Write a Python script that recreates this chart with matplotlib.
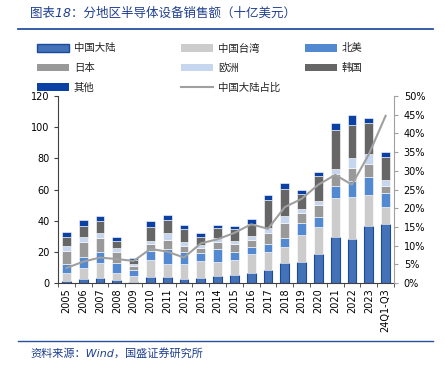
import numpy as np
import matplotlib
matplotlib.use('Agg')
import matplotlib.pyplot as plt
from matplotlib.patches import Patch
from matplotlib.lines import Line2D
from matplotlib.ticker import PercentFormatter

plt.rcParams['font.family'] = ['DejaVu Sans', 'Noto Sans CJK SC']

# 数据（十亿美元），读自原图
years = ['2005', '2006', '2007', '2008', '2009', '2010', '2011', '2012', '2013', '2014',
         '2015', '2016', '2017', '2018', '2019', '2020', '2021', '2022', '2023', '24Q1-Q3']
china = [1.33, 2.33, 2.91, 1.89, 0.94, 3.66, 3.65, 2.5, 3.37, 4.37,
         4.9, 6.46, 8.23, 13.11, 13.45, 18.72, 29.62, 28.27, 36.6, 37.66]
taiwan = [5.3, 7.0, 10.2, 4.8, 3.7, 11.2, 8.5, 9.5, 10.6, 9.4,
          9.6, 12.2, 11.5, 10.2, 17.1, 17.2, 24.9, 26.8, 19.6, 11.2]
n_america = [5.6, 7.2, 6.5, 6.1, 3.5, 5.8, 9.9, 8.2, 5.2, 8.2,
             5.1, 4.5, 5.6, 5.8, 8.2, 6.5, 7.6, 10.5, 12.0, 8.6]
japan = [8.2, 9.6, 9.5, 6.8, 3.0, 4.5, 5.5, 3.5, 3.4, 4.2,
         5.5, 4.6, 6.5, 9.5, 6.3, 7.6, 7.8, 8.3, 7.9, 4.9]
europe = [3.2, 3.2, 3.2, 2.8, 1.0, 2.0, 4.3, 2.3, 1.9, 2.4,
          1.9, 2.2, 3.7, 4.2, 2.3, 2.6, 3.3, 6.3, 6.5, 3.9]
korea = [6.0, 7.0, 7.2, 4.6, 2.4, 8.6, 8.6, 8.7, 5.2, 6.8,
         7.5, 7.7, 18.0, 17.7, 9.9, 16.1, 25.0, 21.5, 19.9, 14.6]
others = [3.3, 4.4, 3.3, 2.5, 1.4, 4.3, 3.0, 2.2, 2.2, 2.1,
          2.0, 3.6, 3.1, 3.9, 2.6, 2.5, 4.4, 5.9, 3.7, 3.3]
china_share = [4.0, 5.7, 6.8, 6.4, 5.9, 9.1, 8.4, 6.8, 10.6, 11.7,
               13.4, 15.7, 14.5, 20.3, 22.5, 26.3, 28.9, 26.3, 34.4, 44.7]

series = [
    ('中国大陆', china, '#4372b8', '#1a4a9c', 0.8),
    ('中国台湾', taiwan, '#cccccc', 'white', 0.4),
    ('北美', n_america, '#5289d0', 'white', 0.4),
    ('日本', japan, '#999999', 'white', 0.4),
    ('欧洲', europe, '#c6d6ef', 'white', 0.4),
    ('韩国', korea, '#666666', 'white', 0.4),
    ('其他', others, '#0b41a4', 'white', 0.4),
]
line_color = '#a0a0a0'
navy = '#1f3f8f'

W, H = 445, 367
fig = plt.figure(figsize=(W / 100, H / 100), dpi=100)
ax = fig.add_axes([58 / W, 1 - 283 / H, (394 - 58) / W, (283 - 96) / H])

x = np.arange(len(years))
bottom = np.zeros(len(years))
for name, vals, fc, ec, lw in series:
    ax.bar(x, vals, 0.52, bottom=bottom, color=fc, edgecolor=ec, linewidth=lw)
    bottom += np.array(vals)

ax.set_xlim(-0.5, len(years) - 0.5)
ax.set_ylim(0, 120)
ax.set_yticks(np.arange(0, 121, 20))
ax.set_xticks(x)
ax.set_xticklabels(years, rotation=90)
ax.set_xticks(np.arange(-0.5, len(years), 1), minor=True)
ax.tick_params(axis='x', which='major', length=0, pad=4, labelsize=7)
ax.tick_params(axis='x', which='minor', length=3, color='#404040')
ax.tick_params(axis='y', length=3, pad=3, labelsize=7, color='#404040')
for s in ['top', 'right']:
    ax.spines[s].set_visible(False)
ax.spines['left'].set_color('#404040')
ax.spines['bottom'].set_color('#404040')

ax2 = ax.twinx()
ax2.plot(x, np.array(china_share) / 100, color=line_color, linewidth=1.5)
ax2.set_ylim(0, 0.5)
ax2.set_yticks(np.arange(0, 0.51, 0.05))
ax2.yaxis.set_major_formatter(PercentFormatter(1.0, decimals=0))
ax2.tick_params(axis='y', length=3, pad=4, labelsize=7, color=line_color)
for s in ['top', 'left', 'bottom']:
    ax2.spines[s].set_visible(False)
ax2.spines['right'].set_color(line_color)

# 图例：三列分别放置
handles = [Patch(facecolor=fc, edgecolor=ec if ec != 'white' else fc, linewidth=1 if ec != 'white' else 0, label=name)
           for name, vals, fc, ec, lw in series]
handles.append(Line2D([], [], color=line_color, linewidth=1.5, label='中国大陆占比'))
cols = [[handles[0], handles[3], handles[6]],
        [handles[1], handles[4], handles[7]],
        [handles[2], handles[5]]]
col_x = [37, 181, 305]
for hs, cx in zip(cols, col_x):
    leg = fig.legend(handles=hs, loc='upper left', bbox_to_anchor=(cx / W, 1 - 43.5 / H),
                     frameon=False, fontsize=7.5, handlelength=3.1, handleheight=0.7,
                     handletextpad=0.45, labelspacing=0.92, borderpad=0, borderaxespad=0)
    for t in leg.get_texts():
        t.set_color('#222222')

# 标题与来源
fig.text(30 / W, 1 - 13 / H, '图表18：分地区半导体设备销售额（十亿美元）', fontsize=9,
         color=navy, style='italic', va='center', ha='left')
fig.add_artist(Line2D([18 / W, 433 / W], [1 - 29 / H] * 2, transform=fig.transFigure,
                      color='#2850a0', linewidth=1.3))
fig.add_artist(Line2D([18 / W, 433 / W], [1 - 341 / H] * 2, transform=fig.transFigure,
                      color='#2850a0', linewidth=1.0))
fig.text(30 / W, 1 - 353 / H, '资料来源：Wind，国盛证券研究所', fontsize=8,
         color=navy, style='italic', va='center', ha='left')

fig.savefig('out.png', dpi=100)
